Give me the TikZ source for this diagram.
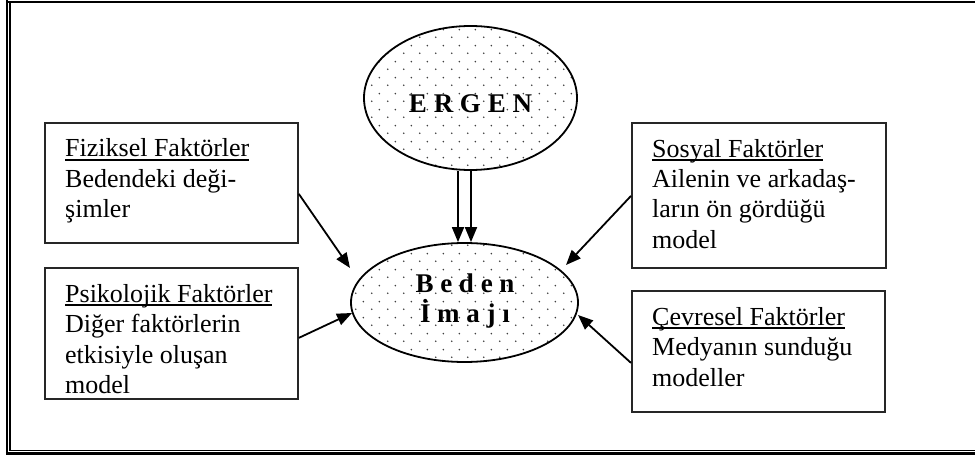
\documentclass[tikz,border=0pt]{standalone}
\usepackage{fontspec}
\setmainfont{Liberation Serif}
\usetikzlibrary{arrows.meta,patterns.meta,shapes.geometric}
\tikzdeclarepattern{
  name=sparsedots,
  type=uncolored,
  bounding box={(0pt,0pt) and (16pt,16pt)},
  tile size={(16pt,16pt)},
  code={
    \fill (4pt,4pt) circle [radius=0.95pt];
    \fill (12pt,12pt) circle [radius=0.95pt];
  }
}
\newcommand\myul[1]{\setbox0\hbox{#1}\rlap{\rule[-4pt]{\wd0}{1.6pt}}\box0}
\begin{document}
\begin{tikzpicture}[x=1pt,y=-1pt,
  frameline/.style={line width=2pt, black},
  factorbox/.style={draw=black!85, line width=1.8pt, rectangle, anchor=north west, inner sep=0pt},
  factortext/.style={anchor=base west, align=left, inner sep=0pt, font=\fontsize{26pt}{30.5pt}\selectfont},
  oval/.style={ellipse, draw=black, line width=1.8pt, pattern=sparsedots, pattern color=black!75, inner sep=0pt},
  ovaltext/.style={anchor=base, align=center, inner sep=0pt, font=\bfseries\fontsize{27pt}{30pt}\selectfont},
  arr/.style={line width=1.8pt, -{Triangle[length=15pt,width=12pt]}}]
\useasboundingbox (0,0) rectangle (975,457);
% frame
\draw[frameline] (6.8,0) -- (6.8,454.7);
\draw[frameline] (5.8,2) -- (985,2);
\draw[frameline, line width=2.3pt] (5.8,453.5) -- (985,453.5);
\draw[frameline] (9.8,2) -- (9.8,451.3);
\draw[frameline, line width=1.4pt] (8.8,450.7) -- (985,450.7);
% ellipses
\node[oval, minimum width=213pt, minimum height=144pt] (ergen) at (470.5,98) {};
\node[ovaltext] (ergentext) at (470.5,113) {E R G E N};
\node[oval, minimum width=227pt, minimum height=119pt] (beden) at (464.5,302.5) {};
\node[ovaltext] (bedentext) at (465,323) {B e d e n\\İ m a j ı};
% factor boxes
\node[factorbox, minimum width=253pt, minimum height=120pt] (fiz) at (44,122) {};
\node[factortext] (fiztext) at (65,218) {\myul{Fiziksel Faktörler}\\Bedendeki deği-\\şimler};
\node[factorbox, minimum width=253pt, minimum height=131pt] (psi) at (44,267) {};
\node[factortext] (psitext) at (65,393.5) {\myul{Psikolojik Faktörler}\\Diğer faktörlerin\\etkisiyle oluşan\\model};
\node[factorbox, minimum width=254pt, minimum height=145pt] (sos) at (631,122) {};
\node[factortext] (sostext) at (652,248.5) {\myul{Sosyal Faktörler}\\Ailenin ve arkadaş-\\ların ön gördüğü\\model};
\node[factorbox, minimum width=253pt, minimum height=121pt] (cev) at (631,290) {};
\node[factortext] (cevtext) at (652,386) {\myul{Çevresel Faktörler}\\Medyanın sunduğu\\modeller};
% arrow tips
\coordinate (t1) at (350,268);
\coordinate (t2) at (352,313);
\coordinate (t3) at (566,265);
\coordinate (t4) at (578,315);
% connectors
\draw[arr] ([yshift=-11pt]fiz.east) -- (t1);
\draw[arr] ([yshift=-4.5pt]psi.east) -- (t2);
\draw[arr] ([yshift=-0.5pt]sos.west) -- (t3);
\draw[arr] ([yshift=-11.5pt]cev.west) -- (t4);
\draw[arr] ([xshift=-6.5pt]beden.north |- ergen.south) -- ([xshift=-6.5pt]beden.north);
\draw[arr] ([xshift=6.5pt]beden.north |- ergen.south) -- ([xshift=6.5pt]beden.north);
\end{tikzpicture}
\end{document}
